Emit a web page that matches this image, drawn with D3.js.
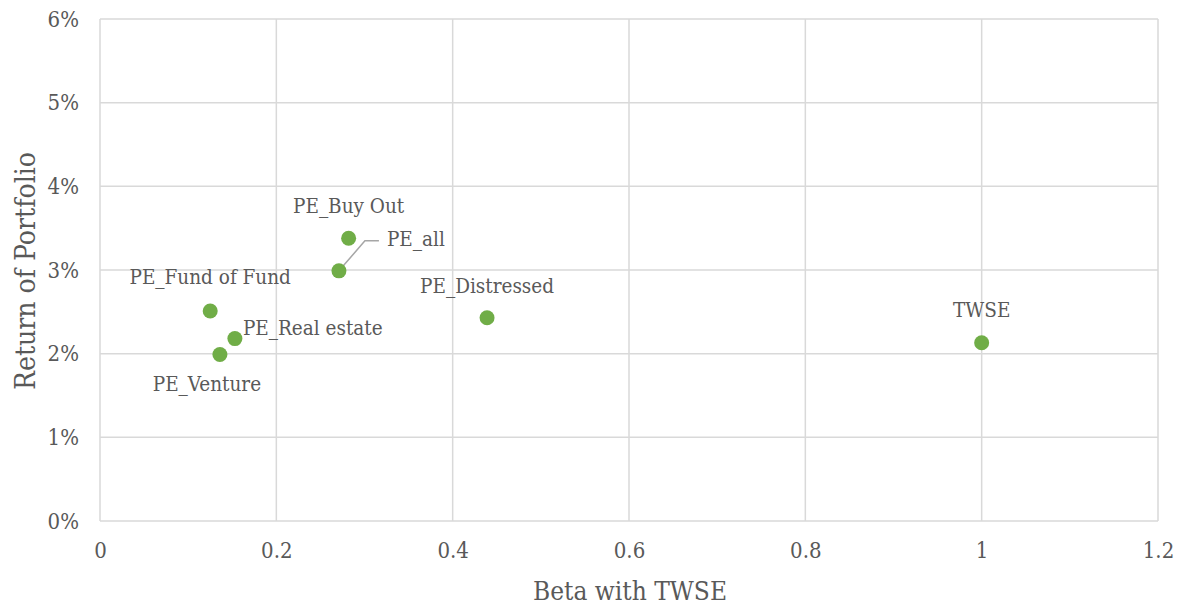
<!DOCTYPE html>
<html>
<head>
<meta charset="utf-8">
<script src="https://cdn.jsdelivr.net/npm/d3@7"></script>
<style>
  body { margin: 0; background: #fff; }
  text { font-family: "DejaVu Serif Condensed", "DejaVu Serif", serif; font-stretch: condensed; fill: #595959; }
</style>
</head>
<body>
<div id="chart"></div>
<script>
var width = 1191, height = 610;

// ---- data
var names = ["PE_Buy Out", "PE_all", "PE_Fund of Fund", "PE_Real estate", "PE_Venture", "PE_Distressed", "TWSE"];
var beta = [0.282, 0.271, 0.125, 0.153, 0.136, 0.439, 1.0];
var ret = [0.0338, 0.0299, 0.0251, 0.0218, 0.0199, 0.0243, 0.0213];
var xTicks = [0, 0.2, 0.4, 0.6, 0.8, 1, 1.2];
var yTicks = [0, 0.01, 0.02, 0.03, 0.04, 0.05, 0.06];

var svg = d3.select("#chart").append("svg")
    .attr("width", width)
    .attr("height", height);

var x = d3.scaleLinear().domain([0, 1.2]).range([100, 1158]);
var y = d3.scaleLinear().domain([0, 0.06]).range([521, 19]);

//---------------------------------- grid
var grid = svg.append("g");
grid.selectAll("line.v").data(xTicks).enter().append("line")
    .attr("x1", function (d) { return x(d); })
    .attr("x2", function (d) { return x(d); })
    .attr("y1", y(0.06)).attr("y2", y(0))
    .attr("stroke", "#d9d9d9").attr("stroke-width", 1.5);
grid.selectAll("line.h").data(yTicks).enter().append("line")
    .attr("x1", x(0)).attr("x2", x(1.2))
    .attr("y1", function (d) { return y(d); })
    .attr("y2", function (d) { return y(d); })
    .attr("stroke", "#d9d9d9").attr("stroke-width", 1.5);

//---------------------------------- axes
var xAxis = d3.axisBottom(x).tickValues(xTicks).tickSize(0).tickPadding(21)
    .tickFormat(function (d) { return d3.format("")(+d.toFixed(1)); });
var yAxis = d3.axisLeft(y).tickValues(yTicks).tickSize(0).tickPadding(21)
    .tickFormat(d3.format(".0%"));

svg.append("g").attr("transform", "translate(0," + y(0) + ")").call(xAxis)
    .call(function (g) { g.select(".domain").remove(); })
    .selectAll("text").attr("font-size", 22).attr("font-family", null);
svg.append("g").attr("transform", "translate(" + x(0) + ",0)").call(yAxis)
    .call(function (g) { g.select(".domain").remove(); })
    .selectAll("text").attr("font-size", 22).attr("font-family", null);

svg.append("text")
    .attr("x", 630).attr("y", 600)
    .attr("text-anchor", "middle")
    .attr("font-size", 26)
    .text("Beta with TWSE");

svg.append("text")
    .attr("transform", "translate(35," + 271 + ") rotate(-90)")
    .attr("text-anchor", "middle")
    .attr("font-size", 28)
    .text("Return of Portfolio");

//---------------------------------- points + labels
var pts = names.map(function (n, i) { return { name: n, b: beta[i], r: ret[i] }; });

// label placement per point: [dx, dy, anchor]
var place = {
    "PE_Buy Out": [0, -33, "middle"],
    "PE_all": [48, -32, "start"],
    "PE_Fund of Fund": [0, -34, "middle"],
    "PE_Real estate": [8, -11, "start"],
    "PE_Venture": [-13, 29, "middle"],
    "PE_Distressed": [0, -32, "middle"],
    "TWSE": [0, -33, "middle"]
};

// leader line for PE_all
var pa = pts[1];
svg.append("path")
    .attr("d", "M" + x(pa.b) + "," + y(pa.r) + " l26,-30 l14,0")
    .attr("fill", "none")
    .attr("stroke", "#a6a6a6")
    .attr("stroke-width", 1.5);

svg.selectAll("circle.pt").data(pts).enter().append("circle")
    .attr("cx", function (d) { return x(d.b); })
    .attr("cy", function (d) { return y(d.r); })
    .attr("r", 7.5)
    .attr("fill", "#70ad47");

svg.selectAll("text.lbl").data(pts).enter().append("text")
    .attr("x", function (d) { return x(d.b) + place[d.name][0]; })
    .attr("y", function (d) { return y(d.r) + place[d.name][1]; })
    .attr("dy", "0.36em")
    .attr("text-anchor", function (d) { return place[d.name][2]; })
    .attr("font-size", 20.5)
    .text(function (d) { return d.name; });
</script>
</body>
</html>
